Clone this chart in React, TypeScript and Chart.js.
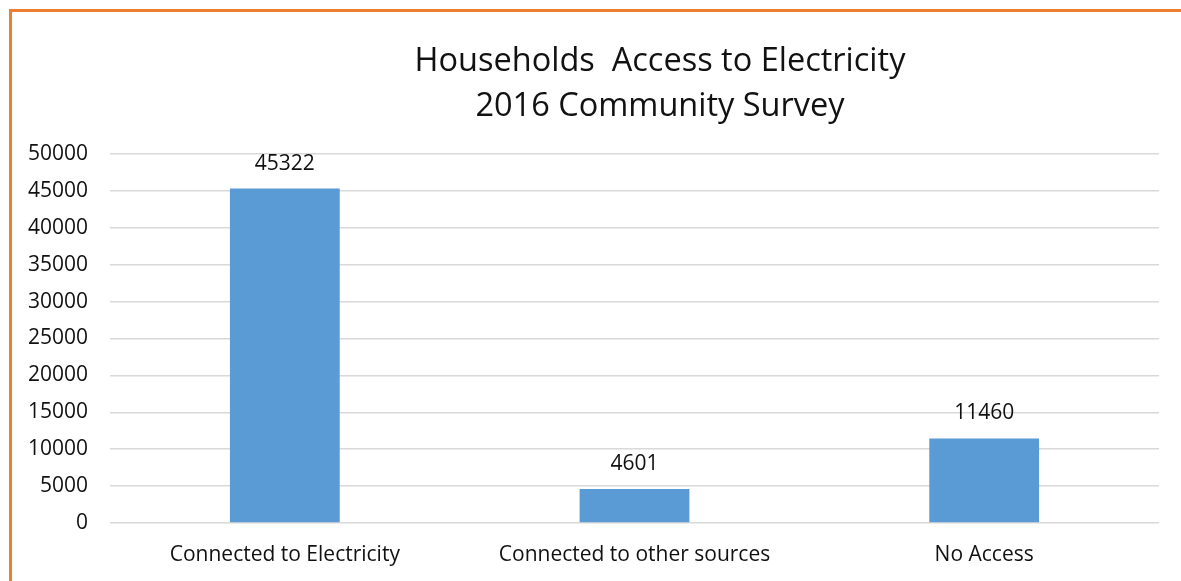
import React, { useEffect, useRef } from "react";
import { Chart, registerables } from "chart.js";

Chart.register(...registerables);

const categories = ["Connected to Electricity", "Connected to other sources", "No Access"];
const householdCounts = [45322, 4601, 11460];
const titleLines = ["Households  Access to Electricity", "2016 Community Survey"];
const yMin = 0;
const yMax = 50000;
const yStep = 5000;

const FONT = "'Open Sans', Lato, sans-serif";
const TEXT = "#111111";

const titlePlugin = {
  id: "customTitle",
  afterDraw(chart: any) {
    const ctx = chart.ctx;
    ctx.save();
    ctx.fillStyle = TEXT;
    ctx.font = `32.5px ${FONT}`;
    ctx.textAlign = "center";
    ctx.textBaseline = "middle";
    ctx.fillText(titleLines[0], 648, 50);
    ctx.fillText(titleLines[1], 648, 95);
    ctx.restore();
  },
};

const labelPlugin = {
  id: "valueLabels",
  afterDatasetsDraw(chart: any) {
    const ctx = chart.ctx;
    ctx.save();
    ctx.fillStyle = TEXT;
    ctx.font = `21px ${FONT}`;
    ctx.textAlign = "center";
    ctx.textBaseline = "middle";
    const meta = chart.getDatasetMeta(0);
    meta.data.forEach((bar: any, i: number) => {
      ctx.fillText(String(householdCounts[i]), bar.x, bar.y - 25);
    });
    ctx.restore();
  },
};

export default function App() {
  const ref = useRef<HTMLCanvasElement>(null);
  useEffect(() => {
    if (!ref.current) return;
    const chart = new Chart(ref.current, {
      type: "bar",
      data: {
        labels: categories,
        datasets: [
          {
            data: householdCounts,
            backgroundColor: "#5B9BD5",
            borderWidth: 0,
            barPercentage: 0.314,
            categoryPercentage: 1,
          },
        ],
      },
      options: {
        animation: false,
        responsive: false,
        maintainAspectRatio: false,
        layout: { padding: { top: 142, right: 22, left: 0, bottom: 0 } },
        plugins: {
          legend: { display: false },
          title: { display: false },
          tooltip: { enabled: false },
        },
        scales: {
          x: {
            grid: { display: false, drawTicks: false },
            border: { display: false },
            ticks: { color: TEXT, font: { family: FONT, size: 21 }, padding: 19 },
            afterFit(axis: any) {
              axis.height = 58;
            },
          },
          y: {
            min: yMin,
            max: yMax,
            grid: { color: "#D9D9D9", lineWidth: 1.5, drawTicks: false },
            border: { display: false },
            ticks: {
              stepSize: yStep,
              color: TEXT,
              font: { family: FONT, size: 21 },
              padding: 22,
              callback: (v: any) => String(v),
            },
            afterFit(axis: any) {
              axis.width = 98;
            },
          },
        },
      },
      plugins: [titlePlugin, labelPlugin],
    });
    return () => chart.destroy();
  }, []);

  return (
    <div
      style={{
        position: "fixed",
        left: 9,
        top: 9,
        width: 1200,
        height: 600,
        borderLeft: "3px solid #ED7D31",
        borderTop: "3px solid #ED7D31",
        background: "#FFFFFF",
        overflow: "hidden",
      }}
    >
      <canvas ref={ref} width={1169} height={569} style={{ display: "block", width: 1169, height: 569 }} />
    </div>
  );
}
